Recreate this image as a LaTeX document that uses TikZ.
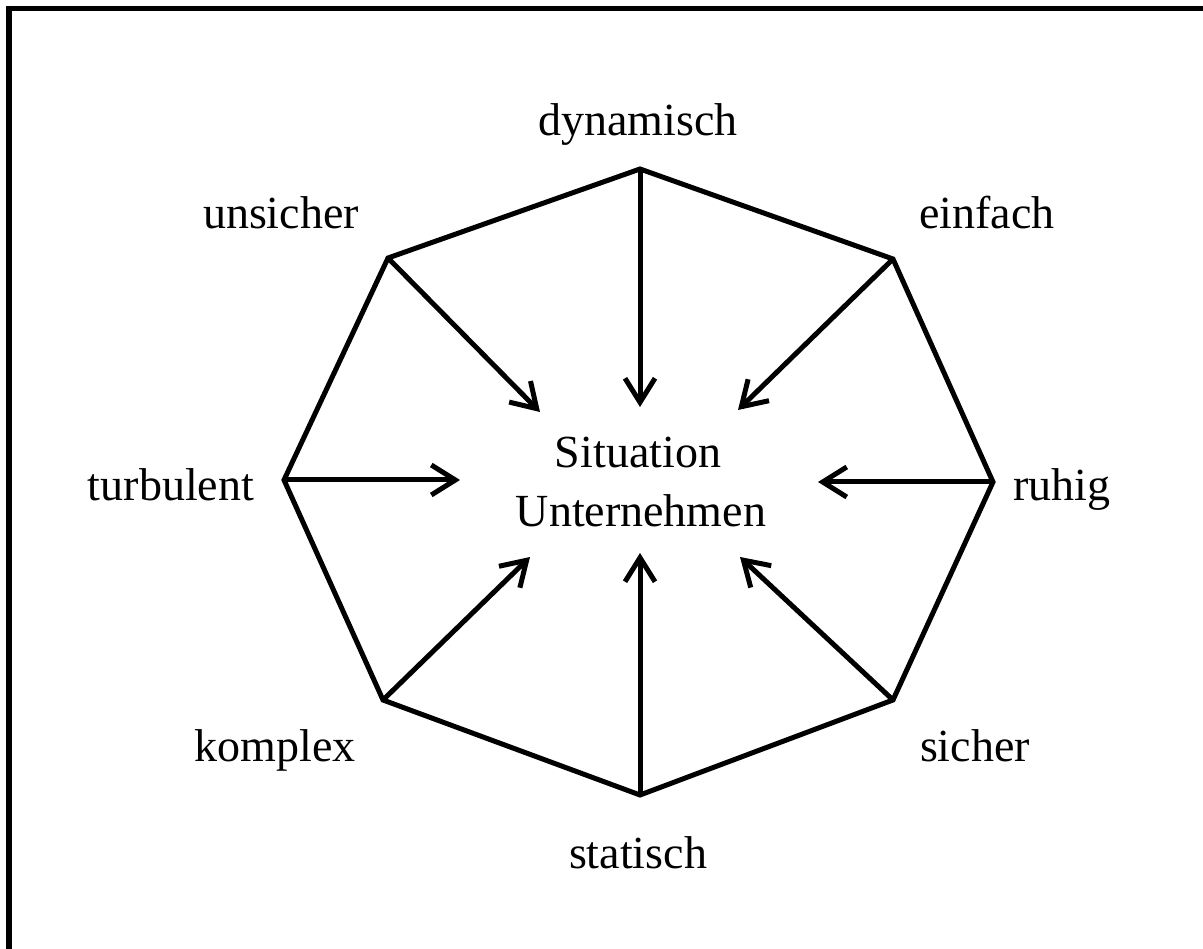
\documentclass[tikz,border=0pt]{standalone}
\usepackage{fontspec}
\setmainfont{Liberation Serif}
\usetikzlibrary{arrows.meta}
\begin{document}
\begin{tikzpicture}[x=1pt,y=-1pt,
  edge/.style={line width=5pt, line join=miter},
  inarrow/.style={line width=5pt, -{Straight Barb[length=24pt,width=30pt,line width=5pt]}},
  lbl/.style={anchor=base, inner sep=0pt, font=\fontsize{46}{56}\selectfont}]
\useasboundingbox (0,0) rectangle (1203,949);
\fill[white] (0,0) rectangle (1203,949);
% frame (top and left)
\draw[line width=5.5pt, line join=miter] (9,949) -- (9,8.5) -- (1203,8.5);
% octagon vertices
\coordinate (vT)  at (640,169);
\coordinate (vTR) at (893,259);
\coordinate (vR)  at (993,482);
\coordinate (vBR) at (893,700);
\coordinate (vB)  at (640,795);
\coordinate (vBL) at (383,700);
\coordinate (vL)  at (284,480);
\coordinate (vTL) at (388,258);
\draw[edge] (vT) -- (vTR) -- (vR) -- (vBR) -- (vB) -- (vBL) -- (vL) -- (vTL) -- cycle;
% arrow tips
\coordinate (tT)  at (640,407);
\coordinate (tTR) at (738,410);
\coordinate (tR)  at (818,482);
\coordinate (tBR) at (740,557);
\coordinate (tB)  at (640,553);
\coordinate (tBL) at (530,557);
\coordinate (tL)  at (460,480);
\coordinate (tTL) at (540,412);
\foreach \v/\t in {vT/tT,vTR/tTR,vR/tR,vBR/tBR,vB/tB,vBL/tBL,vL/tL,vTL/tTL}
  \draw[inarrow] (\v) -- (\t);
% labels
\node[lbl] (dyn) at (638,136) {dynamisch};
\node[lbl] (uns) at (281,229) {unsicher};
\node[lbl] (ein) at (987,229) {einfach};
\node[lbl] (tur) at (171,501) {turbulent};
\node[lbl] (ruh) at (1062,501) {ruhig};
\node[lbl] (kom) at (275,761) {komplex};
\node[lbl] (sic) at (975,761) {sicher};
\node[lbl] (sta) at (638,868) {statisch};
\node[lbl] (sit) at (638,468) {Situation};
\node[lbl] (unt) at (641,527) {Unternehmen};
\end{tikzpicture}
\end{document}
